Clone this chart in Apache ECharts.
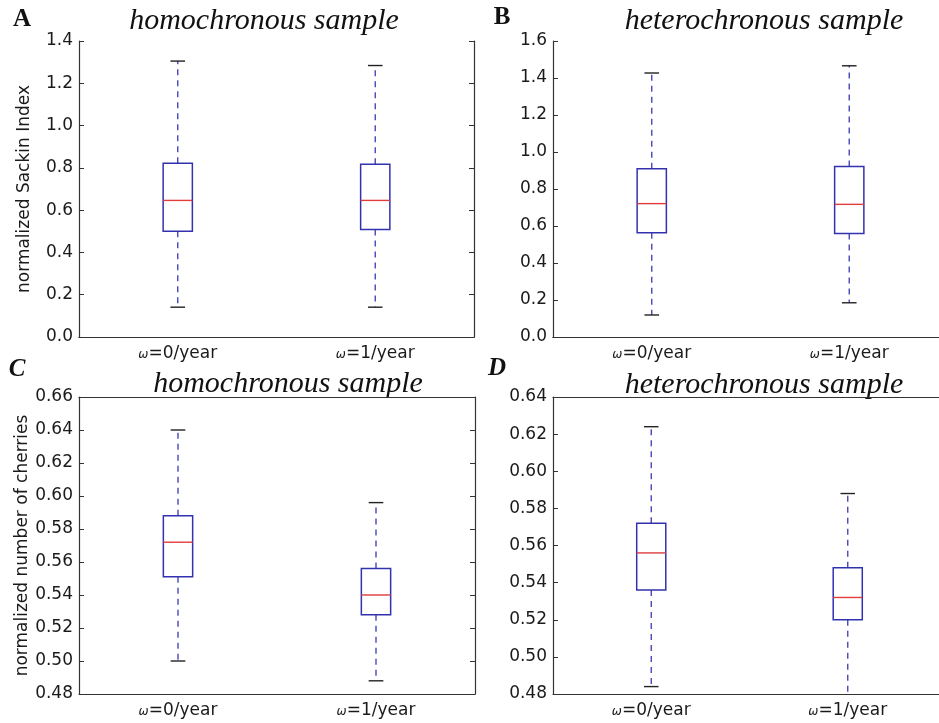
<!DOCTYPE html>
<html><head><meta charset="utf-8">
<script src="https://cdn.jsdelivr.net/npm/echarts@6/dist/echarts.min.js"></script>
<style>html,body{margin:0;padding:0;background:#fff}#c{width:939px;height:723px}</style>
</head><body><div id="c"></div>
<script>
const categories = ['ω=0/year', 'ω=1/year'];
// each box: [lower whisker, Q1, median, Q3, upper whisker]
const sackinHomochronous = [[0.141, 0.500, 0.646, 0.822, 1.305], [0.141, 0.508, 0.646, 0.817, 1.284]];
const sackinHeterochronous = [[0.119, 0.564, 0.721, 0.909, 1.427], [0.185, 0.559, 0.717, 0.922, 1.466]];
const cherriesHomochronous = [[0.500, 0.551, 0.572, 0.588, 0.640], [0.488, 0.528, 0.540, 0.556, 0.596]];
const cherriesHeterochronous = [[0.484, 0.536, 0.556, 0.572, 0.624], [0.476, 0.520, 0.532, 0.548, 0.588]];
const panelData = [sackinHomochronous, sackinHeterochronous, cherriesHomochronous, cherriesHeterochronous];
const panelTitles = ['homochronous sample', 'heterochronous sample', 'homochronous sample', 'heterochronous sample'];
const panelLetters = ['A', 'B', 'C', 'D'];
const yNames = ['normalized Sackin Index', '', 'normalized number of cherries', ''];
// [min, max, interval, decimals]
const yRanges = [[0, 1.4, 0.2, 1], [0, 1.6, 0.2, 1], [0.48, 0.66, 0.02, 2], [0.48, 0.64, 0.02, 2]];

const grids = [
  {left: 79, top: 41, width: 395, height: 296},
  {left: 553, top: 41, width: 395, height: 296},
  {left: 79, top: 397, width: 396, height: 297},
  {left: 553, top: 397, width: 393, height: 297}
];
const titlePos = [[264, 21], [764, 21], [288, 384], [764, 385]];
const letterPos = [[22, 20], [502, 18], [17, 370], [497, 369]];

const AX = '#333';
const TXT = '#1a1a1a';
const FONT = 'DejaVu Sans';

function renderBox(params, api) {
  const xv = api.value(0);
  const p = k => api.coord([xv, api.value(k)]);
  const lo = p(1), q1 = p(2), md = p(3), q3 = p(4), hi = p(5);
  const band = api.size([1, 0])[0];
  const hw = band * 0.074;
  const cw = hw / 2;
  const cx = lo[0];
  const boxStyle = {stroke: '#3232b0', lineWidth: 1.5, fill: null};
  const whisk = {stroke: '#4848b8', lineWidth: 1.4, lineDash: [6, 5]};
  const cap = {stroke: '#222', lineWidth: 1.4};
  const med = {stroke: '#e03c3c', lineWidth: 1.4};
  return {type: 'group', children: [
    {type: 'line', shape: {x1: cx, y1: q3[1], x2: cx, y2: hi[1]}, style: whisk},
    {type: 'line', shape: {x1: cx, y1: q1[1], x2: cx, y2: lo[1]}, style: whisk},
    {type: 'line', shape: {x1: cx - cw, y1: hi[1], x2: cx + cw, y2: hi[1]}, style: cap},
    {type: 'line', shape: {x1: cx - cw, y1: lo[1], x2: cx + cw, y2: lo[1]}, style: cap},
    {type: 'rect', shape: {x: cx - hw, y: q3[1], width: 2 * hw, height: q1[1] - q3[1]}, style: boxStyle},
    {type: 'line', shape: {x1: cx - hw, y1: md[1], x2: cx + hw, y2: md[1]}, style: med}
  ]};
}

const xAxis = [], yAxis = [], series = [], graphic = [];
grids.forEach((g, i) => {
  const [ymin, ymax, step, dec] = yRanges[i];
  xAxis.push({
    type: 'category', gridIndex: i, data: categories, position: 'bottom',
    axisLine: {lineStyle: {color: AX, width: 1.2}},
    axisTick: {inside: true, alignWithLabel: true, length: 5, lineStyle: {color: AX}},
    axisLabel: {
      margin: 8,
      formatter: v => '{w|' + v.charAt(0) + '}{t|' + v.slice(1) + '}',
      rich: {
        w: {fontFamily: FONT, fontSize: 12, fontStyle: 'italic', color: TXT, padding: [3, 0, 0, 0]},
        t: {fontFamily: FONT, fontSize: 17, color: TXT}
      }
    },
    splitLine: {show: false}
  });
  xAxis.push({
    type: 'category', gridIndex: i, data: categories, position: 'top',
    axisLine: {lineStyle: {color: AX, width: 1.2}},
    axisTick: {inside: true, alignWithLabel: true, length: 5, lineStyle: {color: AX}},
    axisLabel: {show: false}, splitLine: {show: false}
  });
  yAxis.push({
    type: 'value', gridIndex: i, min: ymin, max: ymax, interval: step, position: 'left',
    name: yNames[i], nameLocation: 'middle', nameGap: 46, nameRotate: 90,
    nameTextStyle: {fontFamily: FONT, fontSize: 17, color: TXT},
    axisLine: {show: true, lineStyle: {color: AX, width: 1.2}},
    axisTick: {show: true, inside: true, length: 5, lineStyle: {color: AX}},
    axisLabel: {margin: 6, fontFamily: FONT, fontSize: 17, color: TXT, formatter: v => v.toFixed(dec)},
    splitLine: {show: false}
  });
  yAxis.push({
    type: 'value', gridIndex: i, min: ymin, max: ymax, interval: step, position: 'right',
    axisLine: {show: true, lineStyle: {color: AX, width: 1.2}},
    axisTick: {show: true, inside: true, length: 5, lineStyle: {color: AX}},
    axisLabel: {show: false}, splitLine: {show: false}
  });
  series.push({
    type: 'custom', xAxisIndex: 2 * i, yAxisIndex: 2 * i, clip: true,
    renderItem: renderBox,
    encode: {x: 0, y: [1, 2, 3, 4, 5]},
    data: panelData[i].map((v, j) => [j].concat(v))
  });
  graphic.push({
    type: 'text', x: titlePos[i][0], y: titlePos[i][1],
    style: {text: panelTitles[i], font: 'italic 30px "Liberation Serif"', fill: '#111', textAlign: 'center', textVerticalAlign: 'middle'}
  });
  graphic.push({
    type: 'text', x: letterPos[i][0], y: letterPos[i][1],
    style: {text: panelLetters[i], font: (i >= 2 ? 'italic ' : '') + 'bold 25px "Liberation Serif"', fill: '#111', textAlign: 'center', textVerticalAlign: 'middle'}
  });
});

const chart = echarts.init(document.getElementById('c'), null, {renderer: 'canvas'});
chart.setOption({
  animation: false,
  backgroundColor: '#fff',
  grid: grids.map(g => Object.assign({containLabel: false, outerBoundsMode: 'none'}, g)),
  xAxis, yAxis, series, graphic
});
</script>
</body></html>
